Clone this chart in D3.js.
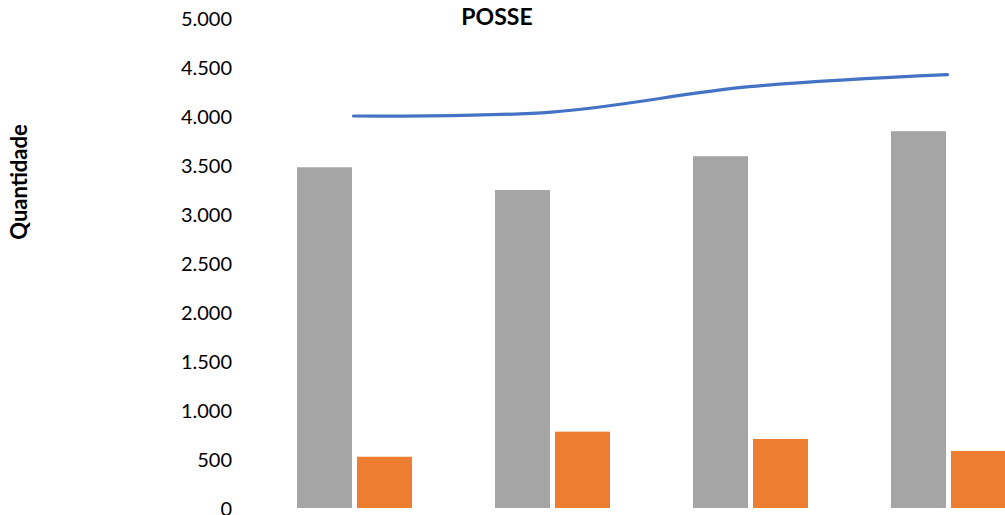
<!DOCTYPE html>
<html>
<head>
<meta charset="utf-8">
<script src="https://cdn.jsdelivr.net/npm/d3@7"></script>
<style>
  html, body { margin: 0; padding: 0; background: #fff; }
  svg { display: block; }
  text { font-family: Lato, "Liberation Sans", sans-serif; fill: #000; }
</style>
</head>
<body>
<svg id="chart" width="1005" height="515"></svg>
<script>
// ---- data ----
const categories = ["1", "2", "3", "4"];
const seriesNames = ["Cinza", "Laranja"];
const grayValues = [3477, 3245, 3590, 3845];
const orangeValues = [523, 779, 704, 582];
const lineValues = [4000, 4040, 4299, 4422];
const yTicks = [0, 500, 1000, 1500, 2000, 2500, 3000, 3500, 4000, 4500, 5000];
const titleText = "POSSE";
const yLabelText = "Quantidade";

const colors = { Cinza: "#A5A5A5", Laranja: "#ED7D31", line: "#4472C4" };

const svg = d3.select("#chart");

const x0 = d3.scaleBand().domain(categories).range([255.5, 1047.5]).paddingInner(0).paddingOuter(0);
const groupW = 115;
const x1 = d3.scaleBand().domain(seriesNames).range([0, groupW]).paddingInner(2 - groupW / 60).paddingOuter(0);
const y = d3.scaleLinear().domain([0, 5000]).range([508, 18]);

const locale = d3.formatLocale({ decimal: ",", thousands: ".", grouping: [3], currency: ["", ""] });
const fmt = locale.format(",");

// y axis (labels only)
const yAxis = d3.axisLeft(y).tickValues(yTicks).tickFormat(fmt).tickSize(0).tickPadding(0);
const gy = svg.append("g").attr("transform", "translate(232,0)").call(yAxis);
gy.select(".domain").remove();
gy.selectAll("text")
  .attr("font-family", "Lato, 'Liberation Sans', sans-serif")
  .attr("font-size", 20)
  .attr("fill", "#000")
  .attr("dy", "0.35em")
  .attr("x", 0);

// bars
const rows = categories.map((c, i) => ({ cat: c, values: [
  { key: "Cinza", value: grayValues[i] },
  { key: "Laranja", value: orangeValues[i] }
]}));

const groups = svg.append("g").selectAll("g")
  .data(rows).join("g")
  .attr("transform", d => `translate(${x0(d.cat) + (x0.bandwidth() - groupW) / 2},0)`);

groups.selectAll("rect")
  .data(d => d.values).join("rect")
  .attr("x", d => x1(d.key))
  .attr("width", x1.bandwidth())
  .attr("y", d => y(d.value))
  .attr("height", d => y(0) - y(d.value))
  .attr("fill", d => colors[d.key]);

// smoothed line
const line = d3.line()
  .x((d, i) => x0(categories[i]) + x0.bandwidth() / 2 - 1)
  .y(d => y(d))
  .curve(d3.curveCatmullRom.alpha(0.5));

svg.append("path")
  .datum(lineValues)
  .attr("d", line)
  .attr("fill", "none")
  .attr("stroke", colors.line)
  .attr("stroke-width", 3.2)
  .attr("stroke-linecap", "round");

// title
svg.append("text")
  .attr("x", 497).attr("y", 25)
  .attr("text-anchor", "middle")
  .attr("font-size", 23)
  .attr("font-weight", "bold")
  .text(titleText);

// y label
svg.append("text")
  .attr("transform", "translate(27,182) rotate(-90)")
  .attr("text-anchor", "middle")
  .attr("font-size", 22)
  .attr("font-weight", "bold")
  .text(yLabelText);
</script>
</body>
</html>
